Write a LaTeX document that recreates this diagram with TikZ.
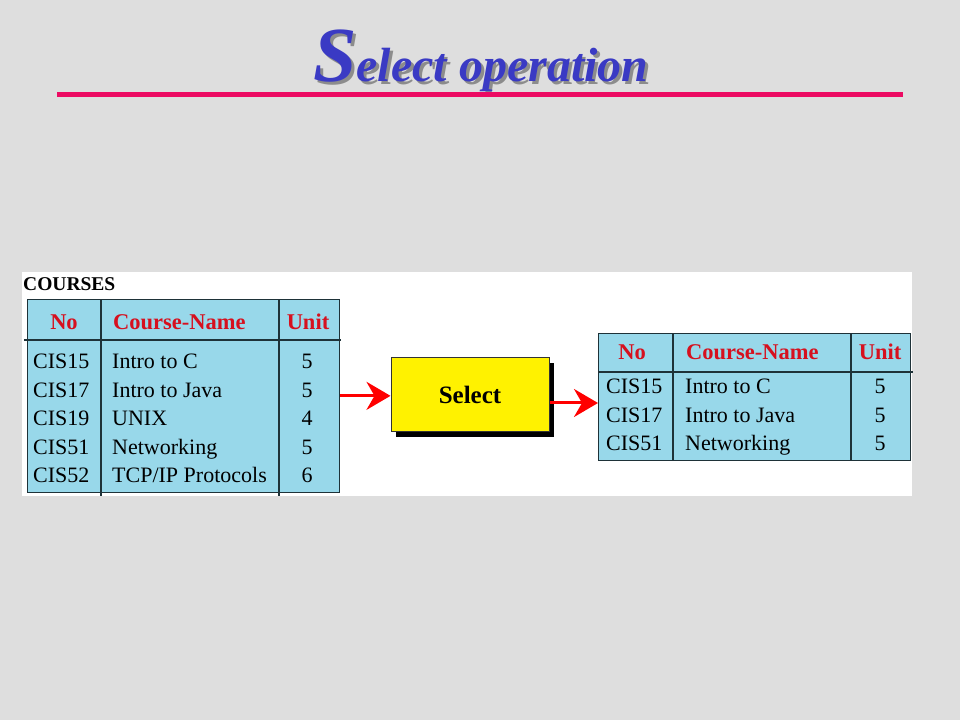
\documentclass[tikz,border=0pt]{standalone}
\usepackage{fontspec}
\setmainfont{Liberation Serif}
\usetikzlibrary{arrows.meta, positioning, shadows, calc}
\definecolor{slidegray}{RGB}{222,222,222}
\definecolor{titleblue}{RGB}{58,58,196}
\definecolor{rulepink}{RGB}{236,10,98}
\definecolor{cellblue}{RGB}{152,216,234}
\definecolor{headred}{RGB}{214,16,30}
\definecolor{gridline}{RGB}{30,50,56}
\newcommand{\Px}[1]{\fontsize{#1}{#1}\selectfont}
\tikzset{
    tablebox/.style={draw=gridline, line width=1.3pt, fill=cellblue, inner sep=0pt},
    tabrule/.style={draw=gridline, line width=1.3pt},
    head/.style={font=\Px{22.5}\bfseries, text=headred, inner sep=0pt},
    cell/.style={font=\Px{22}, inner sep=0pt},
    opbox/.style={draw=black!80, line width=1pt, fill=yellow, inner sep=0pt,
        drop shadow={shadow xshift=5pt, shadow yshift=-5pt, opacity=1, fill=black}},
    flow/.style={draw=red, line width=3pt, -{Stealth[length=24pt, width=28pt, inset=8pt]}},
}

\begin{document}
\begin{tikzpicture}[x=1pt, y=1pt]
    \fill[slidegray] (0,0) rectangle (960,720);
    \useasboundingbox (0,0) rectangle (960,720);

    \node[anchor=base west, inner sep=0pt, text=black!45, font=\bfseries\itshape] (titleshadow) at (316,635)
        {{\Px{78}S}{\Px{48}elect operation}};
    \node[anchor=base west, inner sep=0pt, text=titleblue, font=\bfseries\itshape] (title) at (313,638)
        {{\Px{78}S}{\Px{48}elect operation}};
    \draw[rulepink, line width=5pt] (57,625) -- (903,625);

    \fill[white] (22,224) rectangle (912,448);
    \node[anchor=base west, inner sep=0pt, font=\Px{19.5}\bfseries] (courses) at (23,429) {COURSES};

    \node[tablebox, anchor=south west, minimum width=312pt, minimum height=193pt] (intab) at (27,227) {};
    \draw[tabrule] (24,380) -- (341,380);
    \draw[tabrule] (101,420) -- (101,224) (279,420) -- (279,224);
    \node[head, anchor=base] (inhno) at (64,390) {No};
    \node[head, anchor=base west] (inhname) at (113,390) {Course-Name};
    \node[head, anchor=base] (inhunit) at (308,390) {Unit};
    \foreach \no/\name/\unit [count=\i] in {CIS15/Intro to C/5, CIS17/Intro to Java/5,
        CIS19/UNIX/4, CIS51/Networking/5, CIS52/{TCP/IP Protocols}/6} {
        \pgfmathsetmacro{\yrow}{351-28.5*(\i-1)}
        \node[cell, anchor=base west] (inno\i) at (33,\yrow) {\no};
        \node[cell, anchor=base west] (inname\i) at (112,\yrow) {\name};
        \node[cell, anchor=base] (inunit\i) at (307,\yrow) {\unit};
    }

    \node[opbox, minimum width=158pt, minimum height=74pt, font=\Px{25}\bfseries] (select) at (470,325) {Select};

    \node[tablebox, anchor=south west, minimum width=312pt, minimum height=127pt] (outtab) at (598,259) {};
    \draw[tabrule] (598,348) -- (913,348);
    \draw[tabrule] (673,386) -- (673,259) (851,386) -- (851,259);
    \node[head, anchor=base] (outhno) at (632,360) {No};
    \node[head, anchor=base west] (outhname) at (686,360) {Course-Name};
    \node[head, anchor=base] (outhunit) at (880,360) {Unit};
    \foreach \no/\name/\unit [count=\i] in {CIS15/Intro to C/5, CIS17/Intro to Java/5, CIS51/Networking/5} {
        \pgfmathsetmacro{\yrow}{326-28.5*(\i-1)}
        \node[cell, anchor=base west] (outno\i) at (606,\yrow) {\no};
        \node[cell, anchor=base west] (outname\i) at (685,\yrow) {\name};
        \node[cell, anchor=base] (outunit\i) at (880,\yrow) {\unit};
    }

    \draw[flow] (intab.east) -- (intab.east -| select.west);
    \draw[flow] ([yshift=-8pt]select.east) -- ([yshift=-8pt]select.east -| outtab.west);
\end{tikzpicture}
\end{document}
